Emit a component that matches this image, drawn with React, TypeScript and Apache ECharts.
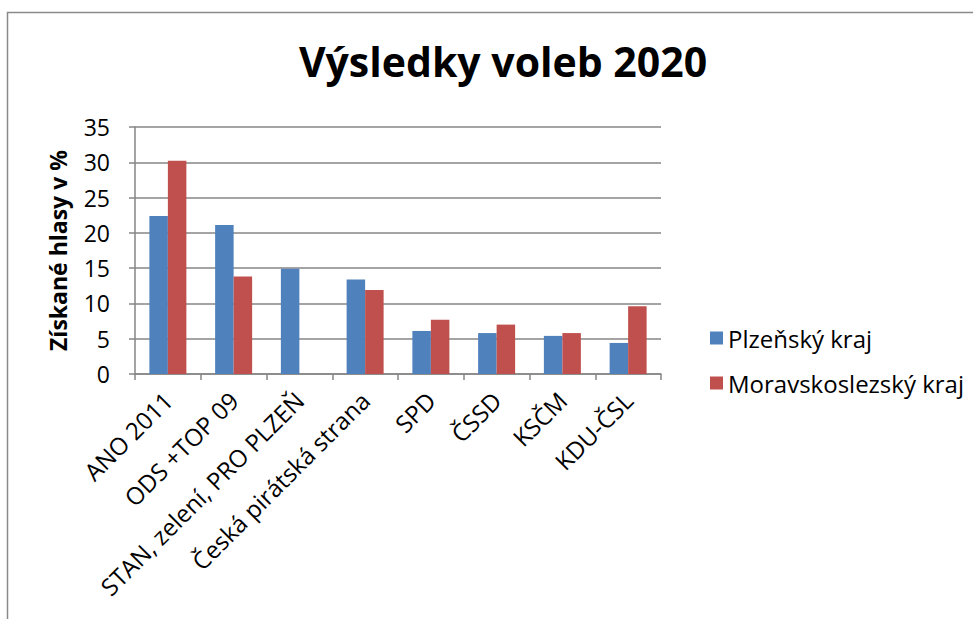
import React, { useEffect, useRef } from "react";
import * as echarts from "echarts";

const categories = [
  "ANO 2011",
  "ODS +TOP 09",
  "STAN, zelení, PRO PLZEŇ",
  "Česká pirátská strana",
  "SPD",
  "ČSSD",
  "KSČM",
  "KDU-ČSL",
];
const plzenskyKraj = [22.4, 21.1, 14.9, 13.4, 6.1, 5.8, 5.4, 4.4];
const moravskoslezskyKraj = [30.2, 13.8, null, 11.9, 7.7, 7.0, 5.8, 9.6];
const seriesNames = ["Plzeňský kraj", "Moravskoslezský kraj"];
const titleText = "Výsledky voleb 2020";
const yAxisTitle = "Získané hlasy v %";

const FONT = "'Open Sans', 'Noto Sans', sans-serif";

export default function App() {
  const ref = useRef<HTMLDivElement>(null);
  useEffect(() => {
    if (!ref.current) return;
    const chart = echarts.init(ref.current, null, { renderer: "svg" });
    chart.setOption({
      animation: false,
      backgroundColor: "#ffffff",
      textStyle: { fontFamily: FONT },
      title: {
        text: titleText,
        left: 498,
        textAlign: "center",
        top: 35,
        textStyle: { fontFamily: FONT, fontSize: 41, fontWeight: "bold", color: "#000" },
      },
      graphic: [
        {
          type: "polyline",
          shape: { points: [[7.5, 619], [7.5, 12.5], [973, 12.5]] },
          style: { stroke: "#8a8a8a", lineWidth: 1.5, fill: "none" },
          silent: true,
        },
      ],
      legend: {
        orient: "vertical",
        left: 705,
        top: 321,
        itemWidth: 13,
        itemHeight: 13,
        itemGap: 21,
        icon: "rect",
        textStyle: { fontFamily: FONT, fontSize: 24, color: "#000" },
        data: seriesNames,
      },
      grid: { left: 135, right: 312, top: 127, bottom: 245, containLabel: false },
      xAxis: {
        type: "category",
        data: categories,
        axisLine: { show: true, lineStyle: { color: "#868686", width: 1.5 } },
        axisTick: { show: true, length: 6, alignWithLabel: false, lineStyle: { color: "#868686", width: 1.5 } },
        axisLabel: {
          rotate: 45,
          interval: 0,
          margin: 22,
          fontFamily: FONT,
          fontSize: 24,
          color: "#000",
        },
      },
      yAxis: {
        type: "value",
        min: 0,
        max: 35,
        interval: 5,
        name: yAxisTitle,
        nameLocation: "middle",
        nameGap: 66,
        nameRotate: 90,
        nameTextStyle: { fontFamily: FONT, fontSize: 23, fontWeight: "bold", color: "#000" },
        axisLine: { show: true, lineStyle: { color: "#868686", width: 1.5 } },
        axisTick: { show: true, length: 6, lineStyle: { color: "#868686", width: 1.5 } },
        splitLine: { show: true, lineStyle: { color: "#868686", width: 1.5 } },
        axisLabel: { margin: 25, fontFamily: FONT, fontSize: 23, color: "#000" },
      },
      series: [
        {
          name: seriesNames[0],
          type: "bar",
          data: plzenskyKraj,
          barWidth: 18.5,
          barGap: "0%",
          itemStyle: { color: "#4F81BD" },
        },
        {
          name: seriesNames[1],
          type: "bar",
          data: moravskoslezskyKraj,
          barWidth: 18.5,
          barGap: "0%",
          itemStyle: { color: "#C0504D" },
        },
      ],
    });
    return () => chart.dispose();
  }, []);
  return (
    <div
      ref={ref}
      style={{ position: "absolute", left: 0, top: 0, width: 973, height: 619 }}
    />
  );
}
